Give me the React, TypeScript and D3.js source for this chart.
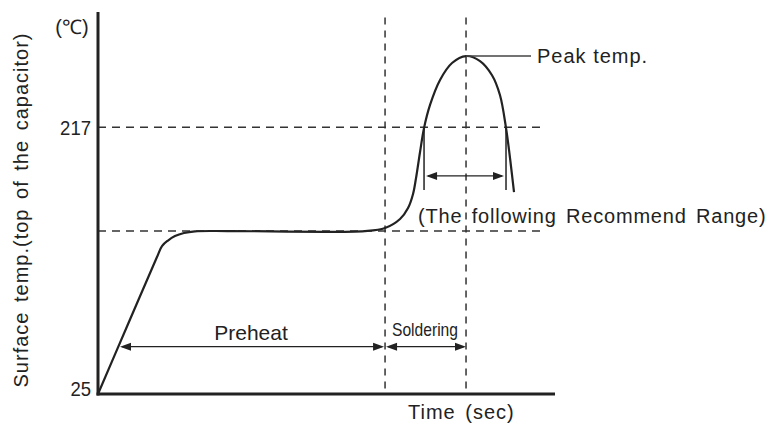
import React from 'react';
import * as d3 from 'd3';

// reflow profile (time in sec, temp in degC)
const profileTime = [0, 20.6, 41.3, 44.8, 49.0, 53.9, 60.2, 67.9, 92.4, 186.9, 201.0, 211.5, 217.1, 220.6, 222.7, 225.5, 228.3, 232.5, 239.5, 247.9, 257.7, 267.5, 275.9, 281.5, 285.7, 287.8, 289.9, 291.3];
const profileTemp = [25, 74.3, 123.6, 131.5, 135.5, 138.7, 140.9, 142.1, 142.3, 142.3, 144.5, 151.0, 158.9, 169.0, 180.5, 199.2, 216.5, 233.1, 251.1, 263.3, 268.3, 264.7, 254.5, 240.1, 216.5, 200.7, 182.7, 170.4];

const yTicks = [25, 217];
const preheatTemp = 142.3;
const reflowTemp = 217;
const peakTemp = 268.3;

const preheatStart = 15.4;
const preheatEnd = 201;
const peakTime = 257.7;
const rangeStart = 228.3;
const rangeEnd = 285.7;

const W = 774;
const H = 424;
const FONT = '"Liberation Sans", Arial, sans-serif';
const INK = '#222';

const x = d3.scaleLinear().domain([0, 320]).range([98, 555]);
const y = d3.scaleLinear().domain([25, 300]).range([394, 12]);

const Arrow = ({ x1, x2, yy }: { x1: number; x2: number; yy: number }) => {
  const head = 11, half = 4;
  return (
    <g>
      <line x1={x1 + 2} x2={x2 - 2} y1={yy} y2={yy} stroke={INK} strokeWidth={1.3} />
      <path d={`M${x1},${yy}L${x1 + head},${yy - half}L${x1 + head},${yy + half}Z`} fill={INK} />
      <path d={`M${x2},${yy}L${x2 - head},${yy - half}L${x2 - head},${yy + half}Z`} fill={INK} />
    </g>
  );
};

export default function App() {
  const pts: [number, number][] = profileTime.map((t, i) => [t, profileTemp[i]]);
  const line = d3.line<[number, number]>()
    .x(d => x(d[0]))
    .y(d => y(d[1]))
    .curve(d3.curveCatmullRom.alpha(0.5));

  const arrowY = y(59.1);
  const rangeArrowY = y(182);
  const rangeBottom = y(171.9);

  return (
    <svg width={W} height={H} style={{ position: 'absolute', left: 0, top: 0, background: '#fff' }} fontFamily={FONT}>
      {/* dashed guides */}
      {[preheatTemp, reflowTemp].map(v => (
        <line key={v} x1={x(0)} x2={x(311)} y1={y(v)} y2={y(v)} stroke="#333" strokeWidth={1.5} strokeDasharray="8,6" />
      ))}
      {[preheatEnd, peakTime].map(v => (
        <line key={v} x1={x(v)} x2={x(v)} y1={y(296)} y2={y(25)} stroke="#333" strokeWidth={1.5} strokeDasharray="7,6" />
      ))}

      {/* profile */}
      <path d={line(pts) || ''} fill="none" stroke={INK} strokeWidth={2.2} />

      {/* axes */}
      <line x1={x(0)} x2={x(0)} y1={y(300)} y2={y(25) + 1.5} stroke={INK} strokeWidth={3} />
      <line x1={x(0) - 1.5} x2={x(320)} y1={y(25)} y2={y(25)} stroke={INK} strokeWidth={3} />

      {yTicks.map(v => (
        <text key={v} x={91} y={v === 25 ? y(v) - 6 : y(v)} textAnchor="end" dominantBaseline="central" fontSize={21} fill={INK}
          textLength={String(v).length * 10.3} lengthAdjust="spacingAndGlyphs">{v}</text>
      ))}
      <text x={72} y={27} textAnchor="middle" dominantBaseline="central" fontSize={20} fill={INK}>(℃)</text>
      <text transform={`translate(21,${210}) rotate(-90)`} textAnchor="middle" dominantBaseline="central" fontSize={20} fill={INK}
        letterSpacing={1} wordSpacing={3}>Surface temp.(top of the capacitor)</text>
      <text x={408} y={419} fontSize={20} fill={INK} letterSpacing={1} wordSpacing={3}>Time (sec)</text>

      {/* peak annotation */}
      <line x1={x(peakTime)} x2={531} y1={y(peakTemp)} y2={y(peakTemp)} stroke="#444" strokeWidth={1.5} />
      <text x={537} y={63} fontSize={20} fill={INK} letterSpacing={1}>Peak temp.</text>

      {/* recommended range */}
      {[rangeStart, rangeEnd].map(v => (
        <line key={v} x1={x(v)} x2={x(v)} y1={y(reflowTemp)} y2={rangeBottom} stroke={INK} strokeWidth={1.5} />
      ))}
      <Arrow x1={x(rangeStart) + 2} x2={x(rangeEnd) - 2} yy={rangeArrowY} />
      <text x={418} y={223} fontSize={20} fill={INK} letterSpacing={0.8} wordSpacing={3}>(The following Recommend Range)</text>

      {/* stage arrows */}
      <Arrow x1={x(preheatStart)} x2={x(preheatEnd) - 1} yy={arrowY} />
      <Arrow x1={x(preheatEnd) + 1} x2={x(peakTime)} yy={arrowY} />
      <text x={251} y={340} textAnchor="middle" fontSize={21} fill={INK}>Preheat</text>
      <text x={425} y={336} textAnchor="middle" fontSize={19} fill={INK} textLength={66} lengthAdjust="spacingAndGlyphs">Soldering</text>
    </svg>
  );
}
